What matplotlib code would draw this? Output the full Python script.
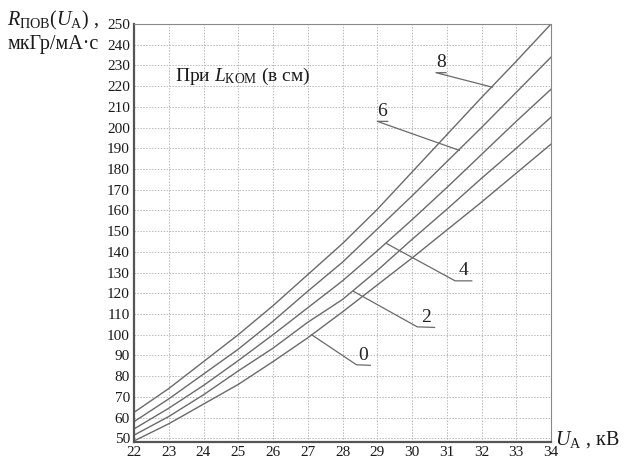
import numpy as np
import matplotlib
matplotlib.use('Agg')
import matplotlib.pyplot as plt

# anode voltage, kV
u_a = [22, 23, 24, 25, 26, 27, 28, 29, 30, 31, 32, 33, 34]

# R_pov(U_A) for different compression L_kom (cm)
r_l0 = [48.7, 57, 66.5, 76, 87, 98.5, 111, 124, 137, 150.5, 164, 178, 192]
r_l2 = [51.5, 60.5, 71, 82.5, 93.5, 106, 117, 131, 146, 160.5, 175.5, 190, 205]
r_l4 = [54.5, 64.5, 75.5, 87.5, 100, 113, 126, 140.5, 155.5, 171, 187, 203, 218.5]
r_l6 = [58, 69, 81, 93, 106.5, 121, 135, 151, 167, 183.5, 200, 217, 234]
r_l8 = [62.5, 74, 87, 100, 114, 129, 144, 160.5, 178.5, 196.5, 214.5, 232, 250]

curves = [r_l0, r_l2, r_l4, r_l6, r_l8]
curve_names = ['0', '2', '4', '6', '8']

x_ticks = list(range(22, 35))
y_ticks = list(range(50, 251, 10))

# leader lines: point on curve -> knee -> end of underline
leaders = {
    '0': [(27.11, 100.0), (28.4, 85.5), (28.8, 85.2)],
    '2': [(28.31, 121.0), (30.15, 103.8), (30.65, 103.5)],
    '4': [(29.27, 144.0), (31.24, 126.0), (31.72, 126.0)],
    '6': [(31.36, 189.0), (29.0, 203.0), (29.3, 203.0)],
    '8': [(32.31, 219.5), (30.69, 226.5), (30.98, 226.5)],
}

plt.rcParams['font.family'] = ['Liberation Serif', 'DejaVu Serif']
plt.rcParams['mathtext.fontset'] = 'custom'
plt.rcParams['mathtext.rm'] = 'Liberation Serif'
plt.rcParams['mathtext.it'] = 'Liberation Serif:italic'

W, H = 624, 463
fig = plt.figure(figsize=(W / 100, H / 100), dpi=100)
ax = fig.add_axes([134 / W, 1 - 442 / H, (551 - 134) / W, (442 - 24) / H])

for vals in curves:
    ax.plot(u_a, vals, color='#6a6a6a', lw=1.0)

for name, pts in leaders.items():
    xs = [p[0] for p in pts]
    ys = [p[1] for p in pts]
    ax.plot(xs, ys, color='#6a6a6a', lw=0.9)
    ax.text((xs[1] + xs[2]) / 2, ys[2] + 0.8, name, ha='center', va='bottom',
            fontsize=14, color='#222')

ax.set_xlim(22, 34)
ax.set_ylim(48.2, 250)
ax.set_xticks(x_ticks)
ax.set_yticks(y_ticks)
ax.grid(True, color='#b8b8b8', ls=(0, (1.5, 1.5)), lw=0.7)
ax.tick_params(length=0, labelsize=11, colors='#1a1a1a', pad=3)

for side in ['top', 'right']:
    ax.spines[side].set_color('#888')
    ax.spines[side].set_linewidth(0.8)
for side in ['left', 'bottom']:
    ax.spines[side].set_color('#555')
    ax.spines[side].set_linewidth(1.6)

fig.text(7 / W, 1 - 20 / H, r'$R_{\mathrm{ПОВ}}(U_{\mathrm{A}})$ ,', fontsize=14.5,
         ha='left', va='center', color='#1a1a1a')
fig.text(7 / W, 1 - 45 / H, 'мкГр/мА·с', fontsize=14.5, ha='left', va='center',
         color='#1a1a1a')
fig.text(175 / W, 1 - 76 / H, r'При $L_{\mathrm{КОМ}}$ (в см)', fontsize=14,
         ha='left', va='center', color='#1a1a1a')
fig.text(555 / W, 1 - 440 / H, r'$U_{\mathrm{A}}$ , кВ', fontsize=14.5,
         ha='left', va='center', color='#1a1a1a')

fig.savefig('out.png', dpi=100)
